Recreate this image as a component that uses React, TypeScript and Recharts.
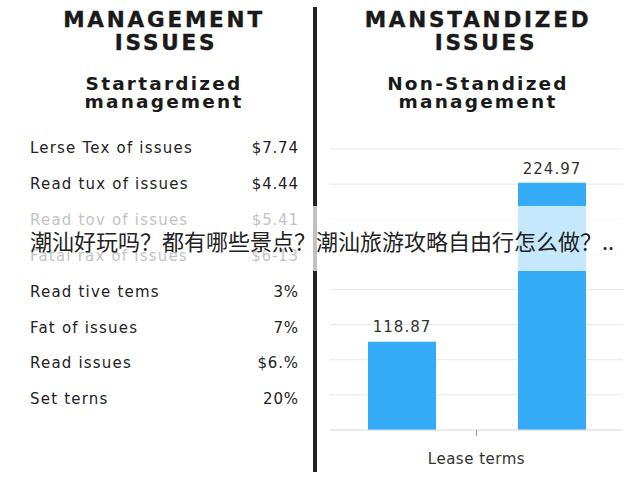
import { BarChart, Bar, XAxis, YAxis, CartesianGrid, LabelList } from 'recharts';

// left panel rows
const issueLabels = [
  'Lerse Tex of issues', 'Read tux of issues', 'Read tov of issues', 'Fatal rax of issues',
  'Read tive tems', 'Fat of issues', 'Read issues', 'Set terns',
];
const issueValues = ['$7.74', '$4.44', '$5.41', '$6-13', '3%', '7%', '$6.%', '20%'];

// right panel bars
const categories = ['Lease terms'];
const standardSeries = [118.87];
const nonStandardSeries = [224.97];

const Y_MIN = 60;
const Y_MAX = 247.5;
const GRID_STEPS = 8;
const yTicks = Array.from({ length: GRID_STEPS + 1 }, (_, i) => Y_MIN + (i * (Y_MAX - Y_MIN)) / GRID_STEPS);

const overlayText = '潮汕好玩吗？都有哪些景点？潮汕旅游攻略自由行怎么做？..';

const BAR_COLOR = '#35abf7';
const FONT = '"DejaVu Sans", Verdana, sans-serif';

const chartData = categories.map((name, i) => ({
  name,
  standard: standardSeries[i],
  nonStandard: nonStandardSeries[i],
}));

const headStyle = {
  position: 'absolute' as const,
  fontFamily: FONT,
  fontWeight: 700,
  color: '#1a1a1a',
  textAlign: 'center' as const,
};

function Heading({ left, width, title, sub, issuesShift = 0 }: any) {
  return (
    <>
      <div style={{ ...headStyle, left, width, top: 8, fontSize: 21.5, lineHeight: '23px', letterSpacing: 2.8, WebkitTextStroke: '0.4px #1a1a1a' }}>
        <div>{title}</div>
        <div style={{ paddingLeft: issuesShift }}>ISSUES</div>
      </div>
      <div style={{ ...headStyle, left, width, top: 75, fontSize: 18.5, lineHeight: '18px', letterSpacing: 2.2 }}>
        {sub.map((s: string, i: number) => <div key={i}>{s}</div>)}
      </div>
    </>
  );
}

export default function App() {
  return (
    <div style={{ position: 'absolute', left: 0, top: 0, width: 640, height: 480, background: '#fff', overflow: 'hidden' }}>
      <Heading left={0} width={328} title="MANAGEMENT" sub={['Startardized', 'management']} issuesShift={4} />
      <Heading left={320} width={316} title="MANSTANDIZED" sub={['Non-Standized', 'management']} issuesShift={16} />

      {/* issue list */}
      {issueLabels.map((label, i) => (
        <div key={i} style={{
          position: 'absolute', left: 30, width: 268, top: 130 + i * 35.9, height: 36,
          display: 'flex', justifyContent: 'space-between', fontFamily: FONT, fontSize: 15,
          lineHeight: '36px', color: '#222',
        }}>
          <span style={{ letterSpacing: 1.2 }}>{label}</span>
          <span style={{ letterSpacing: 0.8, marginRight: -0.8 }}>{issueValues[i]}</span>
        </div>
      ))}

      {/* divider */}
      <div style={{ position: 'absolute', left: 313, top: 7, width: 4, height: 465, background: '#222' }} />

      <div style={{ position: 'absolute', left: 320, top: 130 }}>
        <BarChart width={320} height={350} data={chartData}
          margin={{ top: 19, right: 17, left: 10, bottom: 0 }} barSize={68} barGap={82}>
          <CartesianGrid vertical={false} stroke="#e6e6e6" />
          <YAxis hide width={0} type="number" domain={[Y_MIN, Y_MAX]} ticks={yTicks} allowDataOverflow />
          <XAxis dataKey="name" height={50} axisLine={{ stroke: '#e0e0e0' }}
            tickLine={{ stroke: '#999' }} tickSize={6} tickMargin={17}
            tick={{ fill: '#333', fontSize: 15, fontFamily: FONT, letterSpacing: 0.5 }} />
          <Bar dataKey="standard" fill={BAR_COLOR} isAnimationActive={false}>
            <LabelList dataKey="standard" position="top" offset={10}
              style={{ fill: '#333', fontSize: 15, fontFamily: FONT, letterSpacing: 1 }} />
          </Bar>
          <Bar dataKey="nonStandard" fill={BAR_COLOR} isAnimationActive={false}>
            <LabelList dataKey="nonStandard" position="top" offset={9}
              style={{ fill: '#333', fontSize: 15, fontFamily: FONT, letterSpacing: 1 }} />
          </Bar>
        </BarChart>
      </div>

      {/* caption banner */}
      <div style={{ position: 'absolute', left: 0, top: 206, width: 640, height: 65, background: 'rgba(255,255,255,0.72)' }} />
      <div style={{
        position: 'absolute', left: 30, top: 229, fontSize: 22, lineHeight: '22px', whiteSpace: 'nowrap',
        fontFamily: '"Noto Sans CJK SC", sans-serif', color: '#222',
      }}>{overlayText}</div>
    </div>
  );
}
